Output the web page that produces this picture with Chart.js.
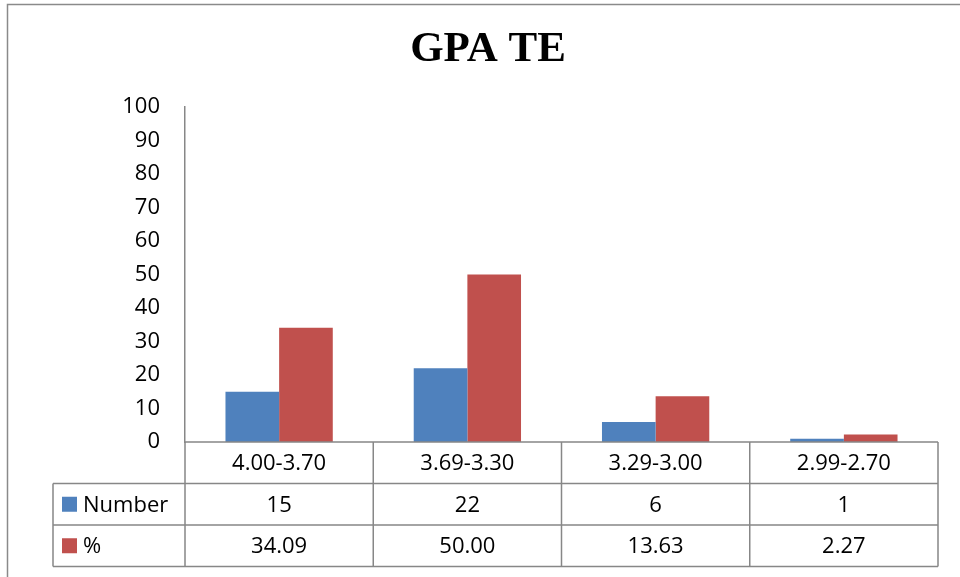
<!DOCTYPE html>
<html>
<head>
<meta charset="utf-8">
<title>GPA TE</title>
<script src="https://cdn.jsdelivr.net/npm/chart.js@4.4.1/dist/chart.umd.min.js"></script>
<style>
  html, body { margin: 0; padding: 0; background: #fff; }
  #wrap { width: 960px; height: 577px; }
</style>
</head>
<body>
<div id="wrap"><canvas id="gpaChart" width="960" height="577"></canvas></div>
<script>
// GPA ranges and the two series shown in the chart and its data table
const gpaRanges = ['4.00-3.70', '3.69-3.30', '3.29-3.00', '2.99-2.70'];
const studentCounts = [15, 22, 6, 1];
const studentPercents = [34.09, 50.00, 13.63, 2.27];
const yTicks = [0, 10, 20, 30, 40, 50, 60, 70, 80, 90, 100];

const BLUE = '#4F81BD';
const RED = '#C0504D';
const LINE = '#878787';
const FONT = 'Open Sans, Liberation Sans, sans-serif';

// data table under the plot, laid out from the x scale
const dataTable = {
    id: 'dataTable',
    afterDraw(chart) {
        const ctx = chart.ctx;
        const area = chart.chartArea;
        const xs = chart.scales.x;
        const cellW = (area.right - area.left) / gpaRanges.length;
        const rowH = 41.5;
        const top = area.bottom;
        const labelLeft = 53;

        ctx.save();
        ctx.strokeStyle = LINE;
        ctx.lineWidth = 1.5;

        // horizontal rules
        ctx.beginPath();
        ctx.moveTo(area.left, top);
        ctx.lineTo(area.right, top);
        for (let r = 1; r <= 3; r++) {
            ctx.moveTo(labelLeft, top + r * rowH);
            ctx.lineTo(area.right, top + r * rowH);
        }
        // vertical rules
        for (let c = 0; c <= gpaRanges.length; c++) {
            const x = area.left + c * cellW;
            ctx.moveTo(x, top);
            ctx.lineTo(x, top + 3 * rowH);
        }
        ctx.moveTo(labelLeft, top + rowH);
        ctx.lineTo(labelLeft, top + 3 * rowH);
        ctx.stroke();

        ctx.fillStyle = '#000';
        ctx.font = '22px ' + FONT;
        ctx.textAlign = 'center';
        ctx.textBaseline = 'middle';
        const rows = [
            gpaRanges,
            studentCounts.map(v => String(v)),
            studentPercents.map(v => v.toFixed(2))
        ];
        rows.forEach((row, r) => {
            row.forEach((txt, i) => {
                ctx.fillText(txt, xs.getPixelForValue(i), top + r * rowH + rowH / 2 + 1);
            });
        });

        // series keys in the first column
        chart.data.datasets.forEach((ds, i) => {
            const cy = top + (i + 1) * rowH + rowH / 2;
            ctx.fillStyle = ds.backgroundColor;
            ctx.fillRect(62, cy - 7.5, 15, 15);
            ctx.fillStyle = '#000';
            ctx.textAlign = 'left';
            ctx.fillText(ds.label, 83, cy + 1);
        });
        ctx.restore();
    }
};

// outer frame of the chart
const frame = {
    id: 'frame',
    beforeDraw(chart) {
        const ctx = chart.ctx;
        ctx.save();
        ctx.fillStyle = '#fff';
        ctx.fillRect(0, 0, chart.width, chart.height);
        ctx.strokeStyle = '#8a8a8a';
        ctx.lineWidth = 1.5;
        ctx.strokeRect(7.5, 4.5, chart.width + 20, chart.height + 20);
        ctx.restore();
    }
};

new Chart(document.getElementById('gpaChart'), {
    type: 'bar',
    data: {
        labels: gpaRanges,
        datasets: [
            { label: 'Number', data: studentCounts, backgroundColor: BLUE },
            { label: '%', data: studentPercents, backgroundColor: RED }
        ]
    },
    options: {
        responsive: false,
        animation: false,
        devicePixelRatio: 1,
        layout: { padding: { top: 0, left: 38, right: 22, bottom: 135 } },
        datasets: {
            bar: { categoryPercentage: 0.57, barPercentage: 1.0, borderWidth: 0 }
        },
        scales: {
            x: { display: false },
            y: {
                min: 0,
                max: 100,
                afterBuildTicks(scale) {
                    scale.ticks = yTicks.map(v => ({ value: v }));
                },
                afterFit(scale) { scale.width = 147; },
                grid: { display: false, drawTicks: false },
                border: { display: true, color: LINE, width: 1.5 },
                ticks: {
                    padding: 25,
                    color: '#000',
                    font: { family: FONT, size: 22 }
                }
            }
        },
        plugins: {
            legend: { display: false },
            tooltip: { enabled: false },
            title: {
                display: true,
                text: 'GPA TE',
                color: '#000',
                font: { family: 'Liberation Serif, Times New Roman, serif', size: 43, weight: 'bold' },
                padding: { top: 24, bottom: 31.4 }
            }
        }
    },
    plugins: [frame, dataTable]
});
</script>
</body>
</html>
